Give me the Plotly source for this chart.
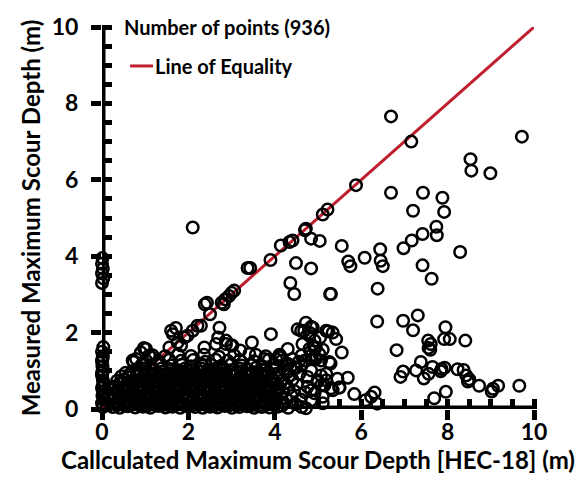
import plotly.graph_objects as go

# ---------------- data ----------------
# points stacked on the y axis (calculated depth ~ 0)
yaxis_x = [0.02, 0.0, 0.04, 0.01, 0.03, 0.0, 0.05, 0.02, 0.0, 0.03, 0.01, 0.0, 0.02, 0.0, 0.03, 0.01, 0.0, 0.02,
           0.0, 0.03, 0.0, 0.02, 0.0, 0.01, 0.28, 0.25, 0.22, 0.10, 0.12]
yaxis_y = [0.05, 0.15, 0.25, 0.35, 0.45, 0.55, 0.65, 0.75, 0.88, 1.00, 1.12, 1.25, 1.38, 1.50, 1.62, 1.30, 0.95, 0.60,
           3.30, 3.42, 3.55, 3.67, 3.80, 3.95, 0.58, 0.41, 0.23, 0.10, 0.30]

# dense cloud, 0.2 < x < 4.7, y < 1.5
dense_x = [
    0.25, 0.41, 0.60, 0.77, 0.95, 1.12, 1.30, 1.47, 1.63, 1.81, 1.98, 2.16, 2.33, 2.50, 2.67, 2.84, 3.01, 3.18, 3.36, 3.52, 3.70, 3.88, 4.06, 4.31, 4.62,
    0.33, 0.50, 0.68, 0.86, 1.03, 1.21, 1.38, 1.55, 1.72, 1.90, 2.07, 2.24, 2.42, 2.59, 2.76, 2.93, 3.10, 3.27, 3.45, 3.62, 3.80, 3.98, 4.20, 4.48,
    0.22, 0.40, 0.57, 0.75, 0.92, 1.09, 1.26, 1.43, 1.60, 1.78, 1.95, 2.12, 2.30, 2.47, 2.64, 2.81, 2.98, 3.16, 3.33, 3.50, 3.68, 3.85, 4.03, 4.26, 4.60,
    0.30, 0.48, 0.65, 0.83, 1.00, 1.17, 1.34, 1.51, 1.69, 1.86, 2.03, 2.20, 2.37, 2.55, 2.72, 2.90, 3.07, 3.24, 3.41, 3.59, 3.76, 3.94, 4.13, 4.39,
    0.36, 0.54, 0.71, 0.88, 1.06, 1.23, 1.40, 1.57, 1.75, 1.92, 2.09, 2.26, 2.43, 2.61, 2.78, 2.95, 3.12, 3.30, 3.47, 3.65, 3.82, 4.00, 4.19, 4.45, 4.70,
    0.31, 0.46, 0.63, 0.80, 0.97, 1.14, 1.31, 1.49, 1.66, 1.83, 2.00, 2.18, 2.35, 2.52, 2.69, 2.87, 3.04, 3.21, 3.38, 3.56, 3.73, 3.90, 4.09, 4.32,
    0.40, 0.57, 0.74, 0.91, 1.08, 1.25, 1.43, 1.60, 1.77, 1.94, 2.11, 2.29, 2.46, 2.63, 2.80, 2.97, 3.15, 3.32, 3.49, 3.67, 3.84, 4.02, 4.23, 4.51,
    0.35, 0.52, 0.69, 0.86, 1.03, 1.20, 1.37, 1.55, 1.72, 1.89, 2.06, 2.23, 2.41, 2.58, 2.75, 2.92, 3.09, 3.27, 3.44, 3.61, 3.78, 3.97, 4.16, 4.41,
    0.45, 0.62, 0.80, 0.97, 1.14, 1.31, 1.48, 1.66, 1.83, 2.00, 2.17, 2.34, 2.52, 2.69, 2.86, 3.03, 3.21, 3.38, 3.55, 3.73, 3.91, 4.11, 4.33,
    0.55, 0.72, 0.90, 1.07, 1.24, 1.41, 1.59, 1.76, 1.93, 2.10, 2.27, 2.45, 2.62, 2.79, 2.96, 3.14, 3.31, 3.49, 3.66, 3.85, 4.06, 4.29,
    0.80, 1.00, 1.20, 1.38, 1.57, 1.75, 1.93, 2.11, 2.29, 2.47, 2.65, 2.83, 3.01, 3.19, 3.37, 3.56, 3.75, 3.96, 4.21, 4.49,
    0.92, 1.13, 1.36, 1.60, 1.85, 2.06, 2.31, 2.53, 2.76, 2.99, 3.23, 3.46, 3.71, 3.99, 4.26, 4.62,
    1.02, 1.31, 1.56, 1.83, 2.11, 2.39, 2.63, 2.91, 3.19, 3.52, 3.86, 4.16, 4.56, 4.86,
    1.17, 1.46, 1.76, 2.06, 2.36, 2.71, 3.06, 3.41, 3.79, 4.11, 4.62,
]
dense_y = [
    0.05, 0.03, 0.07, 0.04, 0.06, 0.03, 0.08, 0.04, 0.06, 0.03, 0.07, 0.05, 0.03, 0.06, 0.04, 0.08, 0.03, 0.05, 0.07, 0.03, 0.05, 0.04, 0.06, 0.03, 0.05,
    0.16, 0.13, 0.17, 0.14, 0.16, 0.12, 0.17, 0.14, 0.15, 0.13, 0.17, 0.14, 0.16, 0.12, 0.15, 0.17, 0.13, 0.16, 0.14, 0.17, 0.12, 0.15, 0.17, 0.13,
    0.24, 0.27, 0.23, 0.26, 0.24, 0.28, 0.23, 0.26, 0.25, 0.22, 0.27, 0.24, 0.26, 0.23, 0.27, 0.25, 0.22, 0.26, 0.24, 0.28, 0.23, 0.26, 0.24, 0.27, 0.25,
    0.36, 0.33, 0.37, 0.34, 0.36, 0.32, 0.37, 0.35, 0.33, 0.37, 0.34, 0.36, 0.32, 0.36, 0.34, 0.38, 0.33, 0.36, 0.34, 0.37, 0.33, 0.35, 0.37, 0.34,
    0.45, 0.47, 0.43, 0.46, 0.44, 0.48, 0.43, 0.46, 0.45, 0.42, 0.47, 0.44, 0.46, 0.43, 0.47, 0.45, 0.42, 0.46, 0.44, 0.48, 0.43, 0.46, 0.44, 0.47, 0.44,
    0.56, 0.53, 0.57, 0.54, 0.56, 0.52, 0.57, 0.55, 0.53, 0.57, 0.54, 0.56, 0.52, 0.56, 0.54, 0.58, 0.53, 0.56, 0.54, 0.57, 0.53, 0.55, 0.57, 0.54,
    0.66, 0.63, 0.67, 0.64, 0.66, 0.62, 0.67, 0.65, 0.63, 0.67, 0.64, 0.66, 0.62, 0.66, 0.64, 0.68, 0.63, 0.66, 0.64, 0.67, 0.63, 0.65, 0.67, 0.64,
    0.74, 0.77, 0.73, 0.76, 0.74, 0.78, 0.73, 0.76, 0.75, 0.72, 0.77, 0.74, 0.76, 0.73, 0.77, 0.75, 0.72, 0.76, 0.74, 0.78, 0.73, 0.76, 0.74, 0.77,
    0.86, 0.83, 0.87, 0.84, 0.86, 0.82, 0.87, 0.85, 0.83, 0.87, 0.84, 0.86, 0.82, 0.86, 0.84, 0.88, 0.83, 0.86, 0.84, 0.87, 0.83, 0.85, 0.87,
    0.95, 0.97, 0.93, 0.96, 0.94, 0.98, 0.93, 0.96, 0.95, 0.92, 0.97, 0.94, 0.96, 0.93, 0.97, 0.95, 0.92, 0.96, 0.94, 0.97, 0.93, 0.96,
    1.04, 1.07, 1.03, 1.06, 1.05, 1.02, 1.07, 1.04, 1.06, 1.03, 1.07, 1.05, 1.02, 1.06, 1.04, 1.08, 1.03, 1.06, 1.04, 1.07,
    1.16, 1.13, 1.17, 1.14, 1.16, 1.12, 1.17, 1.15, 1.13, 1.17, 1.14, 1.16, 1.12, 1.15, 1.17, 1.14,
    1.27, 1.25, 1.29, 1.26, 1.28, 1.24, 1.29, 1.26, 1.28, 1.25, 1.29, 1.26, 1.24, 1.30,
    1.41, 1.38, 1.43, 1.39, 1.42, 1.37, 1.41, 1.44, 1.38, 1.42, 1.40,
]

# further points filling the solid black part of the cloud (0.3 < x < 4.2, y < 1.0)
fill_x = [
    0.34, 0.52, 0.69, 0.86, 1.04, 1.21, 1.39, 1.56, 1.73, 1.90, 2.08, 2.25, 2.42, 2.59, 2.76, 2.94, 3.11, 3.28, 3.45, 3.63, 3.81, 3.99, 4.17,
    0.29, 0.46, 0.64, 0.81, 0.99, 1.16, 1.33, 1.51, 1.68, 1.85, 2.02, 2.20, 2.37, 2.54, 2.71, 2.89, 3.06, 3.23, 3.40, 3.58, 3.75, 3.93,
    0.38, 0.55, 0.72, 0.90, 1.07, 1.25, 1.42, 1.59, 1.76, 1.94, 2.11, 2.28, 2.46, 2.63, 2.80, 2.98, 3.15, 3.32, 3.50, 3.67, 3.86, 4.05,
    0.44, 0.61, 0.78, 0.96, 1.13, 1.30, 1.48, 1.65, 1.82, 1.99, 2.17, 2.34, 2.51, 2.68, 2.86, 3.03, 3.20, 3.37, 3.55, 3.72, 3.90,
    0.63, 0.81, 0.99, 1.16, 1.33, 1.50, 1.68, 1.85, 2.02, 2.19, 2.37, 2.54, 2.71, 2.88, 3.06, 3.23, 3.40, 3.58, 3.76,
]
fill_y = [
    0.10, 0.09, 0.11, 0.10, 0.08, 0.11, 0.10, 0.09, 0.11, 0.10, 0.09, 0.11, 0.10, 0.08, 0.11, 0.10, 0.09, 0.11, 0.10, 0.08, 0.11, 0.10, 0.09,
    0.30, 0.31, 0.29, 0.30, 0.32, 0.29, 0.30, 0.31, 0.29, 0.30, 0.32, 0.29, 0.31, 0.30, 0.29, 0.31, 0.30, 0.32, 0.29, 0.30, 0.31, 0.29,
    0.50, 0.51, 0.49, 0.50, 0.52, 0.49, 0.51, 0.50, 0.49, 0.51, 0.50, 0.52, 0.49, 0.50, 0.51, 0.49, 0.50, 0.52, 0.49, 0.51, 0.50, 0.49,
    0.70, 0.71, 0.69, 0.70, 0.72, 0.69, 0.71, 0.70, 0.69, 0.71, 0.70, 0.72, 0.69, 0.70, 0.71, 0.69, 0.70, 0.72, 0.69, 0.71, 0.70,
    0.90, 0.91, 0.89, 0.90, 0.92, 0.89, 0.91, 0.90, 0.89, 0.91, 0.90, 0.92, 0.89, 0.90, 0.91, 0.89, 0.90, 0.92, 0.89,
]

# scattered points above the cloud and along the line of equality
upper_x = [0.97, 0.79, 0.73, 1.09, 0.90, 1.02, 1.13, 0.71, 1.56, 1.75, 1.83, 1.60, 1.71, 1.64, 1.98, 2.10, 2.21, 1.91,
           2.29, 2.72, 2.69, 2.37, 2.64, 2.87, 3.02, 3.20, 3.47, 2.99, 2.87, 3.56, 3.76, 4.10, 4.30, 4.41, 4.03, 4.14,
           4.31, 3.91, 2.43, 2.50, 2.85, 2.77, 2.82, 3.06, 3.00, 2.94, 3.37, 3.43, 3.90, 4.14, 4.34, 4.41, 4.49, 4.36,
           4.45, 4.72, 4.70, 4.84, 5.04, 5.11, 5.22, 2.10, 5.55, 5.28, 4.84, 2.38]
upper_y = [1.60, 1.31, 1.23, 1.40, 1.48, 1.57, 1.36, 1.27, 1.61, 1.74, 1.66, 2.05, 2.12, 1.96, 1.92, 2.05, 2.18, 1.87,
           2.18, 2.13, 1.87, 1.61, 1.70, 1.70, 1.66, 1.53, 1.74, 1.66, 1.79, 1.42, 1.31, 1.36, 1.57, 1.31, 1.31, 1.36,
           1.18, 1.96, 2.78, 2.48, 2.87, 2.78, 2.74, 3.10, 3.04, 2.96, 3.69, 3.69, 3.90, 4.28, 4.37, 4.41, 3.82, 3.30,
           3.01, 4.72, 4.68, 4.46, 4.40, 5.09, 5.22, 4.75, 4.27, 3.01, 3.68, 2.74]

# points in the 4.4 < x < 5.8 band
mid_x = [4.72, 4.84, 4.68, 4.82, 5.05, 5.24, 5.42, 4.92, 5.11, 5.03, 4.72, 4.84, 5.07, 5.19, 4.99, 5.15, 4.76, 5.30,
         4.92, 5.11, 4.84, 4.64, 4.80, 4.93, 5.07, 5.26, 5.34, 5.19, 4.53, 4.61, 4.88, 4.80, 4.92, 4.95, 5.55, 5.29,
         4.45, 4.57, 4.76, 4.99, 5.19, 5.07, 4.84, 5.34, 5.49, 5.45, 5.69, 5.11, 4.72, 4.84, 4.95, 4.70, 5.50]
mid_y = [2.26, 2.15, 2.05, 1.98, 1.87, 2.03, 1.83, 1.60, 1.55, 1.44, 1.27, 1.01, 0.88, 0.92, 0.71, 0.62, 0.58, 0.54,
         0.41, 0.32, 0.23, 1.70, 1.57, 1.36, 1.27, 1.23, 2.00, 2.05, 2.09, 2.05, 2.13, 1.92, 1.79, 1.61, 1.48, 1.19,
         1.10, 0.92, 0.84, 0.75, 0.75, 0.62, 0.49, 0.49, 0.56, 0.79, 0.82, 0.15, 0.02, 1.40, 1.31, 1.27, 0.56]

# sparse points on the right-hand side
right_x = [9.72, 6.69, 7.16, 8.53, 8.55, 8.99, 5.88, 6.69, 7.43, 7.88, 7.20, 7.92, 7.74, 7.75, 7.42, 7.17, 6.98, 8.29,
           6.08, 5.70, 5.75, 6.45, 6.50, 7.42, 7.63, 6.44, 5.30, 6.38, 6.37, 6.97, 7.31, 7.20, 7.95, 7.92, 8.05, 8.41,
           6.82, 7.55, 7.61, 7.56, 7.60, 6.97, 6.91, 7.27, 7.38, 7.45, 7.56, 7.65, 7.86, 7.93, 7.84, 8.23, 8.37, 8.43,
           8.47, 8.50, 8.73, 9.05, 9.02, 9.17, 9.66, 7.69, 7.96, 5.84, 6.10, 6.23, 6.31, 6.37]
right_y = [7.13, 7.66, 7.00, 6.54, 6.24, 6.17, 5.86, 5.66, 5.66, 5.53, 5.19, 5.16, 4.77, 4.55, 4.58, 4.41, 4.21, 4.11,
           3.96, 3.86, 3.74, 3.88, 3.74, 3.76, 3.41, 4.18, 3.01, 3.15, 2.29, 2.31, 2.45, 2.06, 2.14, 1.83, 1.83, 1.79,
           1.54, 1.79, 1.70, 1.60, 1.55, 0.98, 0.84, 1.01, 1.23, 0.80, 0.92, 1.10, 1.05, 1.08, 0.99, 1.04, 1.02, 0.88,
           0.72, 0.78, 0.61, 0.53, 0.46, 0.61, 0.61, 0.28, 0.45, 0.39, 0.23, 0.32, 0.43, 0.14]

equality_x = [0, 10]
equality_y = [0, 10]

tick_vals = [0, 2, 4, 6, 8, 10]
tick_text = ["0", "2", "4", "6", "8", "10"]

calc_depth = yaxis_x + dense_x + fill_x + upper_x + mid_x + right_x
meas_depth = yaxis_y + dense_y + fill_y + upper_y + mid_y + right_y

# ---------------- figure ----------------
FONT = "Lato"
RED = "#BE1E2D"

fig = go.Figure()
fig.add_trace(go.Scatter(x=equality_x, y=equality_y, mode="lines",
                         line=dict(color=RED, width=3), name="Line of Equality",
                         showlegend=False, hoverinfo="skip"))
fig.add_trace(go.Scatter(x=calc_depth, y=meas_depth, mode="markers",
                         marker=dict(symbol="circle-open", size=11.5, color="black",
                                     line=dict(width=2.5, color="black")),
                         cliponaxis=False, name="Number of points (936)", showlegend=False))
# invisible helper trace for the overlay axes carrying the inner halves of the major ticks
fig.add_trace(go.Scatter(x=[None], y=[None], xaxis="x2", yaxis="y2", showlegend=False, hoverinfo="skip"))

axis_common = dict(range=[0, 10], tickmode="array", tickvals=tick_vals, ticktext=tick_text,
                   showgrid=False, zeroline=False, showline=False,
                   ticks="outside", ticklen=10, tickwidth=5, tickcolor="black",
                   tickfont=dict(family=FONT, size=23, color="black", weight="bold"),
                   minor=dict(ticks="inside", tickmode="linear", tick0=0, dtick=0.5,
                              ticklen=10, tickwidth=5, tickcolor="black", showgrid=False),
                   layer="below traces", fixedrange=True)

fig.update_layout(
    width=581, height=482,
    margin=dict(l=102, r=47, t=24, b=73),
    paper_bgcolor="white", plot_bgcolor="white",
    showlegend=False,
    xaxis=dict(**axis_common, ticklabelstandoff=-8,
               title=dict(text="Callculated Maximum Scour Depth [HEC-18] (m)", standoff=0,
                          font=dict(family=FONT, size=24, color="black", weight="bold"))),
    yaxis=dict(**axis_common, ticklabelstandoff=8,
               title=dict(text="Measured Maximum Scour Depth (m)", standoff=4,
                          font=dict(family=FONT, size=24, color="black", weight="bold"))),
    xaxis2=dict(overlaying="x", anchor="y", side="bottom", range=[0, 10], tickmode="array",
                tickvals=tick_vals, showticklabels=False, ticks="inside", ticklen=10, tickwidth=5,
                tickcolor="black", showgrid=False, zeroline=False, showline=False, layer="below traces"),
    yaxis2=dict(overlaying="y", anchor="x", side="left", range=[0, 10], tickmode="array",
                tickvals=tick_vals, showticklabels=False, ticks="inside", ticklen=10, tickwidth=5,
                tickcolor="black", showgrid=False, zeroline=False, showline=False, layer="below traces"),
)

# thick axis lines centred on x = 0 and y = 0
fig.add_shape(type="line", xref="x", yref="y", x0=0, y0=0, x1=10, y1=0,
              line=dict(color="black", width=7), layer="below")
fig.add_shape(type="line", xref="x", yref="y", x0=0, y0=0, x1=0, y1=10,
              line=dict(color="black", width=7), layer="below")

# legend (drawn as text + sample line)
fig.add_annotation(text="Number of points (936)", xref="paper", yref="paper", x=0.046, y=1.0,
                   xanchor="left", yanchor="middle", showarrow=False,
                   font=dict(family=FONT, size=20, color="black", weight="bold"))
fig.add_shape(type="line", xref="paper", yref="paper", x0=0.065, x1=0.118, y0=0.898, y1=0.898,
              line=dict(color=RED, width=3))
fig.add_annotation(text="Line of Equality", xref="paper", yref="paper", x=0.119, y=0.898,
                   xanchor="left", yanchor="middle", showarrow=False,
                   font=dict(family=FONT, size=20, color="black", weight="bold"))

fig.write_html("out.html")
